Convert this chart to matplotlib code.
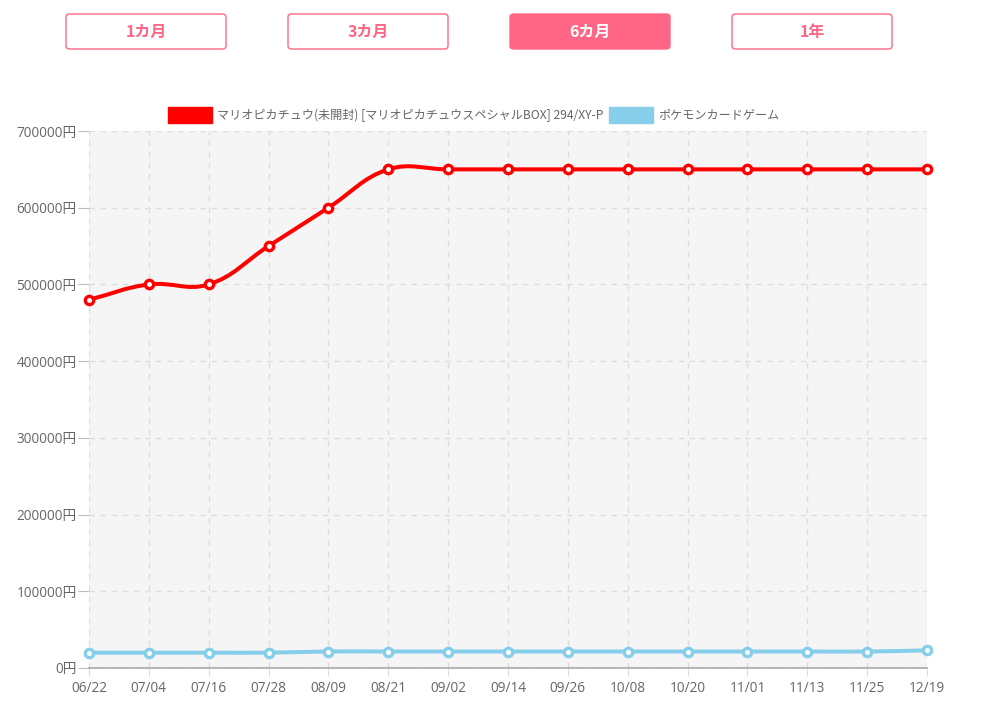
import numpy as np
import matplotlib
matplotlib.use("Agg")
import matplotlib.pyplot as plt
from matplotlib.path import Path
from matplotlib.patches import PathPatch, FancyBboxPatch, Rectangle

plt.rcParams['font.family'] = ['Open Sans', 'Noto Sans CJK JP', 'DejaVu Sans']

# data
dates = ["06/22", "07/04", "07/16", "07/28", "08/09", "08/21", "09/02", "09/14",
         "09/26", "10/08", "10/20", "11/01", "11/13", "11/25", "12/19"]
card_price = [480000, 500000, 500000, 550000, 600000, 650000, 650000, 650000,
              650000, 650000, 650000, 650000, 650000, 650000, 650000]
game_index = [20000, 20000, 20000, 20000, 21500, 21500, 21500, 21500,
              21500, 21500, 21500, 21500, 21500, 21500, 23000]
series_names = ["マリオピカチュウ(未開封) [マリオピカチュウスペシャルBOX] 294/XY-P",
                "ポケモンカードゲーム"]
series_colors = ["#ff0000", "#87ceeb"]
periods = ["1カ月", "3カ月", "6カ月", "1年"]
active_period = 2

W, H = 987, 712
fig = plt.figure(figsize=(W / 100, H / 100), dpi=100)
ax_l, ax_r, ax_t, ax_b = 89, 927, 131, 668
ax = fig.add_axes([ax_l / W, 1 - ax_b / H, (ax_r - ax_l) / W, (ax_b - ax_t) / H])
ax.set_facecolor("#f5f5f5")
ax.set_xlim(0, len(dates) - 1)
ax.set_ylim(0, 700000)

px_x = (ax_r - ax_l) / (len(dates) - 1)
px_y = (ax_b - ax_t) / 700000


def spline_path(xs, ys, t=0.4):
    # chart.js style bezier control points, computed in pixel space
    X = np.asarray(xs, float) * px_x
    Y = np.asarray(ys, float) * px_y
    n = len(X)
    verts = [(X[0], Y[0])]
    codes = [Path.MOVETO]
    cps = []
    for i in range(n):
        p = (X[max(i - 1, 0)], Y[max(i - 1, 0)])
        c = (X[i], Y[i])
        q = (X[min(i + 1, n - 1)], Y[min(i + 1, n - 1)])
        d01 = np.hypot(c[0] - p[0], c[1] - p[1])
        d12 = np.hypot(q[0] - c[0], q[1] - c[1])
        s01 = d01 / (d01 + d12) if d01 + d12 else 0
        s12 = d12 / (d01 + d12) if d01 + d12 else 0
        fa, fb = t * s01, t * s12
        cps.append(((c[0] - fa * (q[0] - p[0]), c[1] - fa * (q[1] - p[1])),
                    (c[0] + fb * (q[0] - p[0]), c[1] + fb * (q[1] - p[1]))))
    for i in range(1, n):
        verts += [cps[i - 1][1], cps[i][0], (X[i], Y[i])]
        codes += [Path.CURVE4] * 3
    verts = [(vx / px_x, vy / px_y) for vx, vy in verts]
    return Path(verts, codes)


xs = np.arange(len(dates))
for vals, col in zip([card_price, game_index], series_colors):
    ax.add_patch(PathPatch(spline_path(xs, vals), facecolor="none", edgecolor=col,
                           lw=2.9, zorder=3, capstyle="round"))
    ax.plot(xs, vals, ls="none", marker="o", ms=6, mfc="white", mec=col, mew=2.4,
            zorder=4, clip_on=False)

ax.set_xticks(xs)
ax.set_xticklabels(dates)
yt = np.arange(0, 700001, 100000)
ax.set_yticks(yt)
ax.set_yticklabels([f"{v}円" for v in yt])
ax.grid(True, color="#dddddd", ls=(0, (4, 4)), lw=1)
ax.tick_params(axis="y", length=8, color="#bbbbbb", colors="#666666", labelsize=9.8, pad=1)
ax.tick_params(axis="x", length=6, color="#dddddd", colors="#666666", labelsize=9.8, pad=3)
for s in ["left", "right", "top"]:
    ax.spines[s].set_visible(False)
ax.spines["bottom"].set_color("#aaaaaa")
ax.spines["bottom"].set_linewidth(1.2)


def fx(px):
    return px / W


def fy(py):
    return 1 - py / H


# legend
leg = [(168, 212, 217), (609, 653, 658)]
for (x0, x1, tx), name, col in zip(leg, series_names, series_colors):
    fig.patches.append(Rectangle((fx(x0), fy(123)), fx(x1 - x0), 16 / H,
                                 transform=fig.transFigure, color=col))
    fig.text(fx(tx), fy(115), name, fontsize=8.7, color="#666666", va="center",
             ha="left", family=["Noto Sans CJK JP", "DejaVu Sans"])

# period buttons
pink = "#ff6685"
for i, label in enumerate(periods):
    x0 = 66 + i * 222
    active = i == active_period
    fig.patches.append(FancyBboxPatch((fx(x0), fy(49)), fx(160), 35 / H,
                                      boxstyle="round,pad=0,rounding_size=0.004",
                                      transform=fig.transFigure,
                                      facecolor=pink if active else "white",
                                      edgecolor=pink, lw=1))
    fig.text(fx(x0 + 80), fy(31.5), label, fontsize=11.5, fontweight="bold",
             color="white" if active else pink, ha="center", va="center",
             family=["Noto Sans CJK JP", "DejaVu Sans"])

fig.savefig("out.png", dpi=100)
